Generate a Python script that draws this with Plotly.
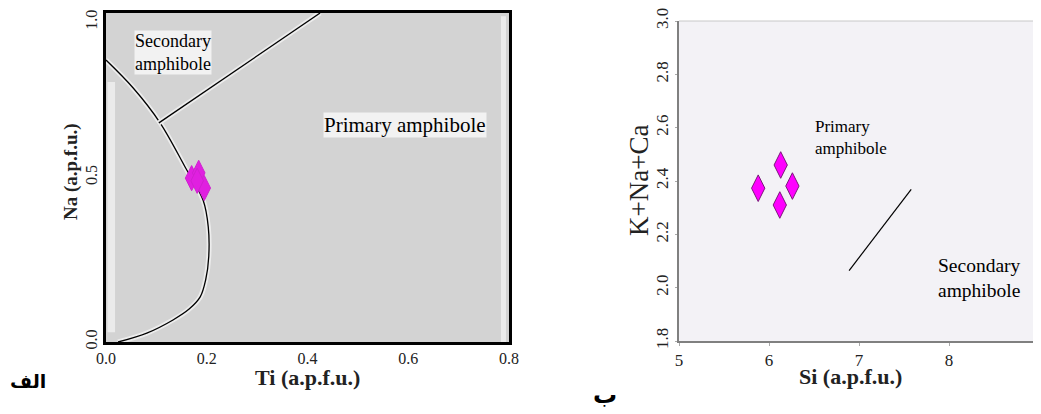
import plotly.graph_objects as go

# ---- Data: panel الف (Ti vs Na) ----
curve_ti = [0.0, 0.054, 0.107, 0.157, 0.193, 0.203, 0.204, 0.198, 0.187, 0.165, 0.133, 0.081, 0.024]
curve_na = [0.857, 0.772, 0.667, 0.532, 0.43, 0.35, 0.26, 0.19, 0.137, 0.10, 0.067, 0.027, 0.0]
split_ti = [0.105, 0.425]
split_na = [0.666, 1.0]
pts_ti = [0.170, 0.184, 0.195, 0.181]
pts_na = [0.498, 0.514, 0.468, 0.49]

# ---- Data: panel ب (Si vs K+Na+Ca) ----
si_vals = [5.88, 6.13, 6.26, 6.12]
kna_vals = [2.373, 2.46, 2.381, 2.31]
line_si = [6.89, 7.58]
line_kna = [2.064, 2.369]

x1_ticks = [0.0, 0.2, 0.4, 0.6, 0.8]
y1_ticks = [0.0, 0.5, 1.0]
y1_tickpos = [0.0, 0.5, 0.972]   # top label nudged inside the figure edge
x2_ticks = [5, 6, 7, 8, 9]
y2_ticks = [1.8, 2.0, 2.2, 2.4, 2.6, 2.8, 3.0]

SERIF = "Liberation Serif"
W, H = 1041, 414
OFF = 8  # page body margin offset


def px(x):
    return (x - OFF) / W


def py(y):
    return 1 - (y - OFF) / H


fig = go.Figure()

# Left panel: halo + curves
for xs, ys in [(curve_ti, curve_na), (split_ti, split_na)]:
    fig.add_trace(go.Scatter(x=xs, y=ys, mode="lines", line=dict(color="#ededed", width=5, shape="spline"),
                             xaxis="x", yaxis="y", hoverinfo="skip", showlegend=False))
    fig.add_trace(go.Scatter(x=xs, y=ys, mode="lines", line=dict(color="black", width=1.3, shape="spline"),
                             xaxis="x", yaxis="y", showlegend=False))
fig.add_trace(go.Scatter(x=pts_ti, y=pts_na, mode="markers",
                         marker=dict(symbol="diamond-tall", size=18, color="#e020e0",
                                     line=dict(color="#d020d0", width=1)),
                         xaxis="x", yaxis="y", showlegend=False))

# Right panel
fig.add_trace(go.Scatter(x=line_si, y=line_kna, mode="lines", line=dict(color="black", width=1.2),
                         xaxis="x2", yaxis="y2", showlegend=False))
fig.add_trace(go.Scatter(x=si_vals, y=kna_vals, mode="markers",
                         marker=dict(symbol="diamond-tall", size=19, color="#ff00ff",
                                     line=dict(color="#7a1a7a", width=1)),
                         xaxis="x2", yaxis="y2", showlegend=False))

tickfont = dict(family=SERIF, size=16, color="#222")
tickfont2 = dict(family=SERIF, size=17, color="#222")

fig.update_layout(
    width=W, height=H,
    margin=dict(l=0, r=0, t=0, b=0, autoexpand=False),
    font=dict(family=SERIF),
    paper_bgcolor="white", plot_bgcolor="rgba(0,0,0,0)",
    xaxis=dict(domain=[px(106), px(509)], range=[0, 0.8], tickvals=x1_ticks,
               ticktext=[f"{v:.1f}" for v in x1_ticks], tickfont=tickfont,
               showline=True, mirror=True, linewidth=3, linecolor="black",
               showgrid=False, zeroline=False, ticks="", automargin=False,
               ticklabeloverflow="allow", anchor="y"),
    yaxis=dict(domain=[py(342), py(13)], range=[0, 1.0], tickvals=y1_tickpos,
               ticktext=[f"{v:.1f}" for v in y1_ticks], tickfont=tickfont, tickangle=-90,
               showline=True, mirror=True, linewidth=3, linecolor="black",
               showgrid=False, zeroline=False, ticks="", automargin=False,
               ticklabeloverflow="allow", anchor="x"),
    xaxis2=dict(domain=[px(679), px(1039)], range=[5, 9], tickvals=x2_ticks,
                tickfont=tickfont2,
                showline=True, linewidth=2, linecolor="#808080",
                ticks="outside", ticklen=3, tickcolor="#aaa",
                showgrid=False, zeroline=False, automargin=False,
                ticklabeloverflow="allow", anchor="y2"),
    yaxis2=dict(domain=[py(341), py(21)], range=[1.8, 3.0], tickvals=y2_ticks,
                ticktext=[f"{v:.1f}" for v in y2_ticks],
                tickfont=tickfont2, tickangle=-90,
                showline=True, linewidth=2, linecolor="#808080",
                ticks="outside", ticklen=2, tickcolor="#aaa",
                showgrid=False, zeroline=False, automargin=False,
                ticklabeloverflow="allow", anchor="x2"),
    shapes=[
        dict(type="rect", xref="x domain", yref="y domain", x0=0, x1=1, y0=0, y1=1,
             fillcolor="#d3d3d3", line=dict(width=0), layer="below"),
        dict(type="rect", xref="x", yref="y", x0=0.003, x1=0.018, y0=0.03, y1=0.79,
             fillcolor="#ebebeb", line=dict(width=0), layer="below"),
        dict(type="rect", xref="x", yref="y", x0=0.784, x1=0.794, y0=0.0, y1=0.99,
             fillcolor="#ebebeb", line=dict(width=0), layer="below"),
        dict(type="rect", xref="x2 domain", yref="y2 domain", x0=0, x1=1, y0=0, y1=1,
             fillcolor="#f3f2f6", line=dict(width=0), layer="below"),
        dict(type="line", xref="x2 domain", yref="y2 domain", x0=0, x1=1, y0=1, y1=1,
             line=dict(color="#c8c8c8", width=1), layer="below"),
    ],
    annotations=[
        # left panel texts
        dict(x=0.133, y=0.88, xref="x", yref="y", text="Secondary<br>amphibole",
             showarrow=False, font=dict(family=SERIF, size=18, color="black"),
             bgcolor="#f2f2f2", borderpad=0, align="left"),
        dict(x=0.594, y=0.66, xref="x", yref="y", text="Primary amphibole",
             showarrow=False, font=dict(family=SERIF, size=21, color="black"),
             bgcolor="#f2f2f2", borderpad=0),
        # right panel texts
        dict(x=6.49, y=2.565, xref="x2", yref="y2", text="Primary<br>amphibole",
             showarrow=False, xanchor="left", align="left",
             font=dict(family=SERIF, size=17, color="black")),
        dict(x=7.86, y=2.036, xref="x2", yref="y2", text="Secondary<br>amphibole",
             showarrow=False, xanchor="left", align="left",
             font=dict(family=SERIF, size=19.5, color="black")),
        # axis titles
        dict(x=px(307.5), y=py(377), xref="paper", yref="paper", text="<b>Ti (a.p.f.u.)</b>",
             xanchor="center", yanchor="middle",
             showarrow=False, font=dict(family=SERIF, size=22, color="#222")),
        dict(x=px(71), y=py(172), xref="paper", yref="paper", text="<b>Na (a.p.f.u.)</b>",
             xanchor="center", yanchor="middle",
             showarrow=False, textangle=-90, font=dict(family=SERIF, size=19, color="#222")),
        dict(x=px(850), y=py(376), xref="paper", yref="paper", text="<b>Si (a.p.f.u.)</b>",
             xanchor="center", yanchor="middle",
             showarrow=False, font=dict(family=SERIF, size=22, color="#222")),
        dict(x=px(639), y=py(181), xref="paper", yref="paper", text="K+Na+Ca",
             xanchor="center", yanchor="middle",
             showarrow=False, textangle=-90, font=dict(family=SERIF, size=27, color="#222")),
        # panel labels
        dict(x=px(8), y=py(381), xref="paper", yref="paper", text="<b>الف</b>",
             xanchor="left", yanchor="middle",
             showarrow=False, font=dict(family="DejaVu Sans", size=19, color="black")),
        dict(x=px(605), y=py(395), xref="paper", yref="paper", text="<b>ب</b>",
             xanchor="center", yanchor="middle",
             showarrow=False, font=dict(family="DejaVu Sans", size=24, color="black")),
    ],
)

fig.write_html("out.html")
